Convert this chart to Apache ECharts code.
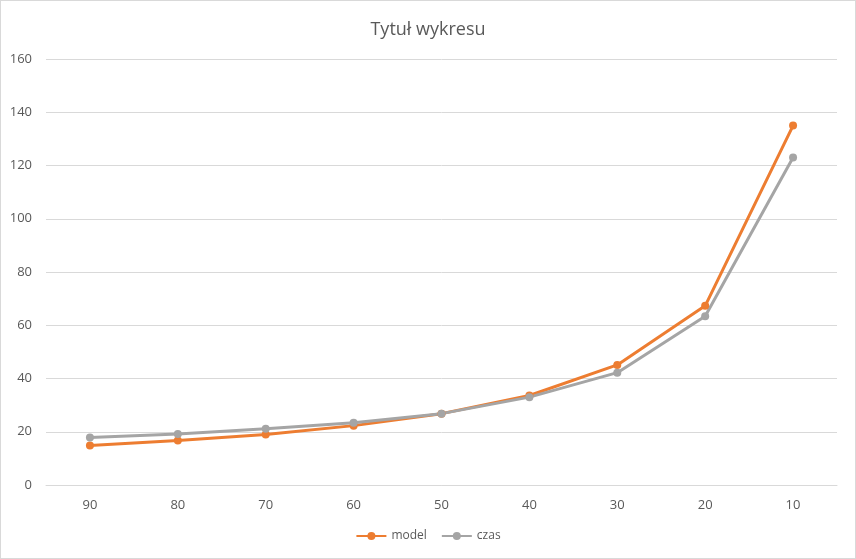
<!DOCTYPE html>
<html><head><meta charset="utf-8">
<script src="https://cdn.jsdelivr.net/npm/echarts@6/dist/echarts.min.js"></script>
<style>html,body{margin:0;padding:0;background:#fff}#c{width:856px;height:559px;box-sizing:border-box;border:1px solid #d9d9d9}</style>
</head><body><div id="c"></div>
<script>
var categories = ['90','80','70','60','50','40','30','20','10'];
var modelValues = [14.8, 16.7, 19.0, 22.3, 26.8, 33.6, 45.1, 67.3, 135.0];
var czasValues = [17.8, 19.2, 21.1, 23.4, 26.8, 33.0, 42.2, 63.4, 123.0];
var chart = echarts.init(document.getElementById('c'));
chart.setOption({
  animation: false,
  title: { text: 'Tytuł wykresu', left: 'center', top: 15,
    textStyle: { fontFamily: 'Open Sans', fontSize: 18, fontWeight: 'normal', color: '#595959' } },
  legend: { bottom: 11, left: 'center', itemWidth: 30, itemHeight: 10, itemGap: 14,
    textStyle: { fontFamily: 'Open Sans', fontSize: 12, color: '#595959' },
    data: ['model', 'czas'] },
  grid: { left: 45, right: 18, top: 58, bottom: 73 },
  xAxis: { type: 'category', data: categories, boundaryGap: true,
    axisLine: { lineStyle: { color: '#d9d9d9' } }, axisTick: { show: false },
    axisLabel: { color: '#595959', fontFamily: 'Open Sans', fontSize: 13, margin: 14 } },
  yAxis: { type: 'value', min: 0, max: 160, interval: 20,
    axisLine: { show: false }, axisTick: { show: false },
    splitLine: { lineStyle: { color: '#d9d9d9' } },
    axisLabel: { color: '#595959', fontFamily: 'Open Sans', fontSize: 13, margin: 14 } },
  series: [
    { name: 'model', type: 'line', data: modelValues, symbol: 'circle', symbolSize: 8,
      lineStyle: { width: 3, color: '#ED7D31' }, itemStyle: { color: '#ED7D31' } },
    { name: 'czas', type: 'line', data: czasValues, symbol: 'circle', symbolSize: 8,
      lineStyle: { width: 3, color: '#A5A5A5' }, itemStyle: { color: '#A5A5A5' } }
  ]
});
</script></body></html>
